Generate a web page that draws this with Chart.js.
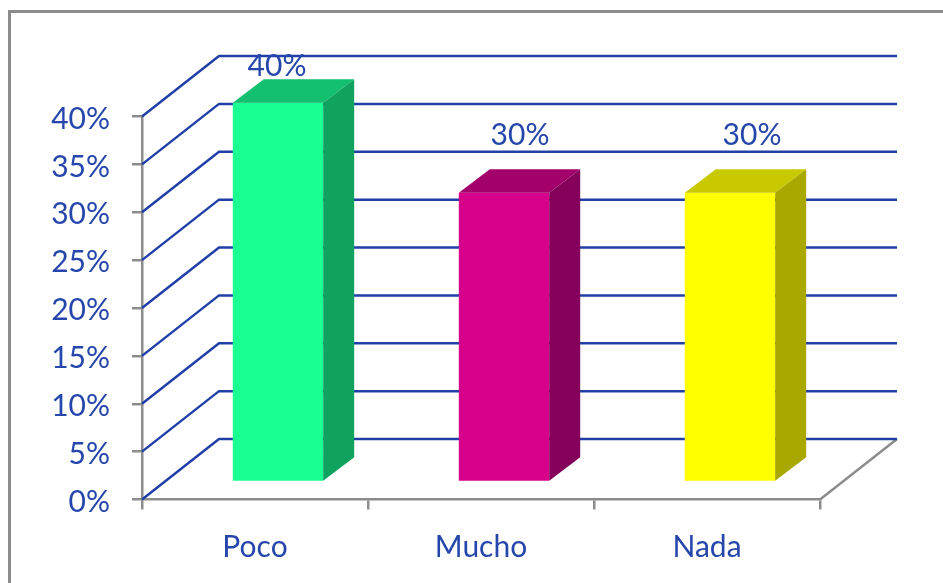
<!DOCTYPE html>
<html>
<head>
<meta charset="utf-8">
<style>
    html, body { margin: 0; padding: 0; background: #fff; overflow: hidden; }
    canvas { display: block; }
</style>
<script src="https://cdn.jsdelivr.net/npm/chart.js@4"></script>
</head>
<body>
<canvas id="chart" width="943" height="583"></canvas>
<script>
const categories = ['Poco', 'Mucho', 'Nada'];
const values = [39.6, 30.2, 30.2];
const yTicks = [0, 5, 10, 15, 20, 25, 30, 35, 40];

const frontColors = ['#1aff92', '#d6008a', '#ffff00'];
const topColors = ['#12c06f', '#a3006b', '#c9c900'];
const sideColors = ['#10a35f', '#85005a', '#a8a800'];

const BLUE = '#2040a8';
const TEXT = '#2546ab';
const GREY = '#8c8c8c';
const FONT = 'Lato, sans-serif';
const FONT_SIZE = 30;

// depth of the fake 3D box
const WALL = { dx: 77, dy: -60.5 };
const BAR_SHIFT = { dx: 23, dy: -17.6 };
const BAR_DEPTH = { dx: 31, dy: -23.5 };
const LABEL_SHIFT = [-1, 16, 22];

function poly(ctx, color, pts) {
    ctx.fillStyle = color;
    ctx.beginPath();
    pts.forEach((p, i) => i ? ctx.lineTo(p[0], p[1]) : ctx.moveTo(p[0], p[1]));
    ctx.closePath();
    ctx.fill();
}

const box3d = {
    id: 'box3d',
    beforeDatasetsDraw(chart) {
        const ctx = chart.ctx;
        const { x, y } = chart.scales;
        const left = x.left, right = x.right;

        // outer frame, runs off the right and bottom of the picture
        ctx.save();
        ctx.strokeStyle = GREY;
        ctx.lineWidth = 3;
        ctx.strokeRect(9.5, 11.5, 1000, 1000);

        // floor edge
        ctx.lineWidth = 2.5;
        ctx.beginPath();
        ctx.moveTo(right, y.bottom);
        ctx.lineTo(right + WALL.dx, y.bottom + WALL.dy);
        ctx.stroke();

        // grid runs up the side wall then along the back wall
        ctx.strokeStyle = BLUE;
        ctx.lineWidth = 2.5;
        yTicks.forEach(v => {
            const py = y.getPixelForValue(v);
            ctx.beginPath();
            ctx.moveTo(left, py);
            ctx.lineTo(left + WALL.dx, py + WALL.dy);
            ctx.lineTo(right + WALL.dx, py + WALL.dy);
            ctx.stroke();
        });
        ctx.restore();

        // bars stand part way into the box
        ctx.save();
        ctx.translate(BAR_SHIFT.dx, BAR_SHIFT.dy);
    },
    afterDatasetsDraw(chart) {
        const ctx = chart.ctx;
        ctx.restore();

        const d = BAR_DEPTH;
        chart.getDatasetMeta(0).data.forEach((bar, i) => {
            const l = bar.x - bar.width / 2 + BAR_SHIFT.dx;
            const r = bar.x + bar.width / 2 + BAR_SHIFT.dx;
            const t = bar.y + BAR_SHIFT.dy;
            const b = bar.base + BAR_SHIFT.dy;
            poly(ctx, topColors[i], [[l, t], [r, t], [r + d.dx, t + d.dy], [l + d.dx, t + d.dy]]);
            poly(ctx, sideColors[i], [[r, t], [r + d.dx, t + d.dy], [r + d.dx, b + d.dy], [r, b]]);

            // the top label is held down inside the frame
            ctx.fillStyle = TEXT;
            ctx.font = FONT_SIZE + 'px ' + FONT;
            ctx.textAlign = 'center';
            ctx.textBaseline = 'middle';
            ctx.fillText(Math.round(values[i]) + '%', l + bar.width / 2 + LABEL_SHIFT[i], Math.max(66, t - 57));
        });
    }
};

new Chart(document.getElementById('chart'), {
    type: 'bar',
    data: {
        labels: categories,
        datasets: [{
            data: values,
            backgroundColor: frontColors,
            borderWidth: 0,
            barPercentage: 0.4,
            categoryPercentage: 1
        }]
    },
    options: {
        responsive: false,
        animation: false,
        layout: { padding: { top: 116.5, right: 123, left: 0, bottom: 0 } },
        plugins: { legend: { display: false }, tooltip: { enabled: false } },
        scales: {
            x: {
                afterFit(scale) { scale.height = 83.5; },
                grid: { offset: true, drawOnChartArea: false, color: GREY, lineWidth: 2.5, tickLength: 10 },
                border: { color: GREY, width: 2.5 },
                ticks: { color: TEXT, font: { family: FONT, size: FONT_SIZE }, padding: 20, maxRotation: 0 }
            },
            y: {
                min: 0,
                max: 40,
                afterFit(scale) { scale.width = 142; },
                afterBuildTicks(scale) { scale.ticks = yTicks.map(v => ({ value: v })); },
                grid: { drawOnChartArea: false, color: GREY, lineWidth: 2.5, tickLength: 10 },
                border: { color: GREY, width: 2.5 },
                ticks: {
                    color: TEXT,
                    font: { family: FONT, size: FONT_SIZE },
                    padding: 22,
                    labelOffset: 2.5,
                    callback: v => v + '%'
                }
            }
        }
    },
    plugins: [box3d]
});
</script>
</body>
</html>
